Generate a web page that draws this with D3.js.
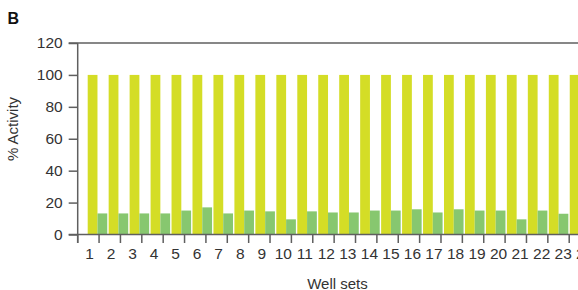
<!DOCTYPE html>
<meta charset="utf-8">
<style>
body { margin: 0; background: #fff; }
svg text { font-family: "Liberation Sans", Arial, sans-serif; fill: #333; }
.axis path, .axis line { stroke: #5f5f5f; stroke-width: 1.5px; }
</style>
<svg width="578" height="290"></svg>
<script src="https://d3js.org/d3.v7.min.js"></script>
<script>
// well sets 1..24 (the last one is cut off by the figure edge)
var wellSets = d3.range(1, 25);
var series = ["control", "treated"];
var colors = ["#d4dd26", "#87c76f"];
var controlValues = [100, 100, 100, 100, 100, 100, 100, 100, 100, 100, 100, 100,
                     100, 100, 100, 100, 100, 100, 100, 100, 100, 100, 100, 100];
var treatedValues = [13.2, 13.2, 13.2, 13.2, 15, 17, 13.2, 15, 14.5, 9.5, 14.5, 13.8,
                     13.8, 15, 15, 15.8, 13.8, 15.8, 15, 15, 9.5, 15, 13, 14];
var yTicks = [0, 20, 40, 60, 80, 100, 120];

var svg = d3.select("svg"),
    width = +svg.attr("width");

var plotLeft = 77.7, plotTop = 43, plotBottom = 234.5;

var y = d3.scaleLinear().domain([0, 120]).range([plotBottom, plotTop]);

// tick marks sit on the category boundaries
var xTick = d3.scaleBand().domain(wellSets).range([plotLeft, plotLeft + 24 * 21.37]);
// labels drift a little from the tick spacing in the original
var xLabel = d3.scalePoint().domain(wellSets).range([89, 89 + 23 * 21.53]);
// bar groups
var xBar = d3.scaleBand().domain(wellSets).range([87.7, 87.7 + 24 * 20.9]).paddingInner(0.067);
var xSub = d3.scaleBand().domain(series).range([0, xBar.bandwidth()]);

var rows = wellSets.map(function(w, i) {
  return { well: w, values: [controlValues[i], treatedValues[i]] };
});

// bars
var groups = svg.append("g").selectAll("g")
    .data(rows)
  .enter().append("g")
    .attr("transform", function(d) { return "translate(" + xBar(d.well) + ",0)"; });

groups.selectAll("rect")
    .data(function(d) { return d.values.map(function(v, i) { return { key: series[i], value: v }; }); })
  .enter().append("rect")
    .attr("x", function(d) { return xSub(d.key); })
    .attr("y", function(d) { return y(d.value); })
    .attr("width", xSub.bandwidth())
    .attr("height", function(d) { return plotBottom - y(d.value); })
    .attr("fill", function(d, i) { return colors[i]; });

// y axis
var yAxis = svg.append("g")
    .attr("class", "axis")
    .attr("transform", "translate(" + plotLeft + ",0)")
    .call(d3.axisLeft(y).tickValues(yTicks).tickSize(9).tickSizeOuter(0).tickPadding(6));
yAxis.selectAll("text").style("font-size", "15.5px");
yAxis.select(".domain").attr("d", "M0," + plotTop + "V" + (plotBottom + 8.5));

// top line and baseline across the plot
svg.append("g").attr("class", "axis").selectAll("line")
    .data([plotTop, plotBottom])
  .enter().append("line")
    .attr("x1", plotLeft - 9).attr("x2", width)
    .attr("y1", function(d) { return d; }).attr("y2", function(d) { return d; });

// x tick marks at the category boundaries
svg.append("g").attr("class", "axis").selectAll("line")
    .data(wellSets)
  .enter().append("line")
    .attr("x1", function(d) { return xTick(d); })
    .attr("x2", function(d) { return xTick(d); })
    .attr("y1", plotBottom).attr("y2", plotBottom + 8.5);

// x labels
var xAxis = svg.append("g")
    .attr("transform", "translate(0," + plotBottom + ")")
    .call(d3.axisBottom(xLabel).tickSize(0).tickPadding(13.5));
xAxis.select(".domain").remove();
xAxis.selectAll("text").style("font-size", "15.5px").attr("fill", "#333");

// axis titles
svg.append("text")
    .attr("transform", "translate(18,129) rotate(-90)")
    .attr("text-anchor", "middle")
    .style("font-size", "15px")
    .text("% Activity");

svg.append("text")
    .attr("x", 337.5)
    .attr("y", 288.5)
    .attr("text-anchor", "middle")
    .style("font-size", "15px")
    .text("Well sets");

svg.append("text")
    .attr("x", 7.5)
    .attr("y", 24)
    .style("font-size", "16px")
    .style("font-weight", "bold")
    .style("fill", "#111")
    .text("B");
</script>
